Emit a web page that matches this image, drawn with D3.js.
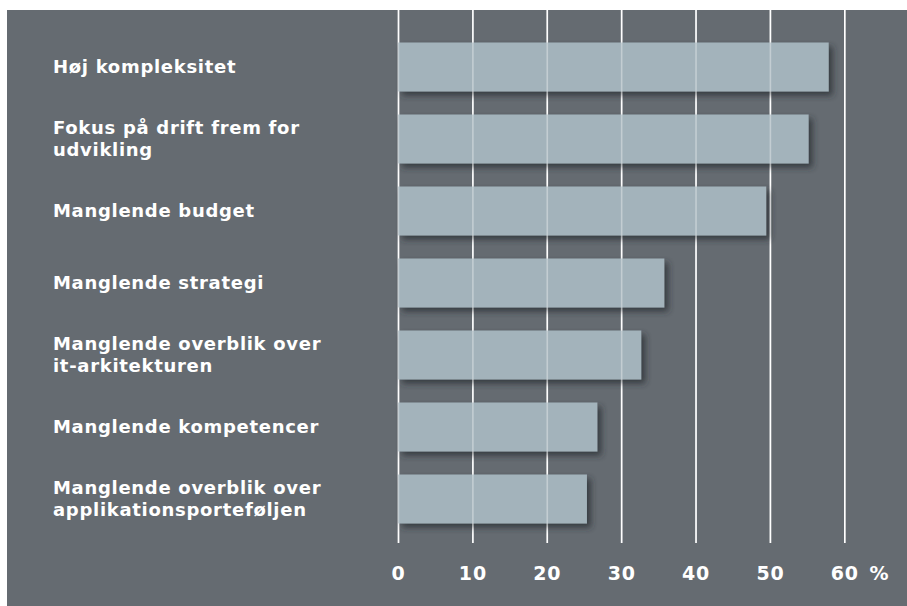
<!DOCTYPE html>
<html>
<head>
<meta charset="utf-8">
<script src="https://cdn.jsdelivr.net/npm/d3@7"></script>
<style>
  html, body { margin: 0; padding: 0; background: #ffffff; }
  svg { display: block; }
  text { font-family: "DejaVu Sans", "Open Sans", sans-serif; font-weight: bold; fill: #ffffff; }
</style>
</head>
<body>
<svg id="chart" width="907" height="606"></svg>
<script>
// Barrierer – andel af respondenter (%)
const categories = [
  ["Høj kompleksitet"],
  ["Fokus på drift frem for", "udvikling"],
  ["Manglende budget"],
  ["Manglende strategi"],
  ["Manglende overblik over", "it-arkitekturen"],
  ["Manglende kompetencer"],
  ["Manglende overblik over", "applikationsporteføljen"]
];
const values = [57.9, 55.2, 49.5, 35.8, 32.7, 26.8, 25.4];
const tickValues = [0, 10, 20, 30, 40, 50, 60];
const unitLabel = "%";

const svg = d3.select("#chart");
const W = 907, H = 606;

// panel background
svg.append("rect").attr("x", 7).attr("y", 10).attr("width", W - 7).attr("height", H - 10)
  .attr("fill", "#656b71");

const defs = svg.append("defs");
const f = defs.append("filter").attr("id", "shadow")
  .attr("x", "-10%").attr("y", "-20%").attr("width", "130%").attr("height", "160%");
f.append("feDropShadow").attr("dx", 4).attr("dy", 4).attr("stdDeviation", 3)
  .attr("flood-color", "#2a2e33").attr("flood-opacity", 0.75);

const x = d3.scaleLinear().domain([0, 60]).range([398, 844.3]);
const y = d3.scaleBand().domain(d3.range(categories.length)).range([31, 535]).paddingInner(0.32).paddingOuter(0.16);

const bandTop = 10, tickBottom = 543;

// grid lines behind bars
svg.append("g").selectAll("line").data(tickValues).join("line")
  .attr("x1", d => x(d) + 0.5).attr("x2", d => x(d) + 0.5)
  .attr("y1", bandTop).attr("y2", tickBottom)
  .attr("stroke", "#ffffff").attr("stroke-width", 1.6);

// bars
svg.append("g").selectAll("rect").data(values).join("rect")
  .attr("x", x(0)).attr("y", (d, i) => y(i))
  .attr("width", d => x(d) - x(0)).attr("height", y.bandwidth())
  .attr("fill", "#a3b3bb").attr("filter", "url(#shadow)");

// grid lines seen through bars
svg.append("g").selectAll("line").data(tickValues).join("line")
  .attr("x1", d => x(d) + 0.5).attr("x2", d => x(d) + 0.5)
  .attr("y1", bandTop).attr("y2", tickBottom)
  .attr("stroke", "#ffffff").attr("stroke-opacity", 0.35).attr("stroke-width", 1.6);

// category labels
const lab = svg.append("g");
categories.forEach((lines, i) => {
  const cy = y(i) + y.bandwidth() / 2;
  const lh = 22;
  const t = lab.append("text").attr("x", 53).attr("font-size", 18)
    .attr("letter-spacing", 0.7);
  lines.forEach((s, j) => {
    t.append("tspan").attr("x", 53)
      .attr("y", cy + (j - (lines.length - 1) / 2) * lh)
      .attr("dy", "0.35em").text(s);
  });
});

// x axis tick labels
const axis = d3.axisBottom(x).tickValues(tickValues).tickSize(0).tickPadding(0);
const ag = svg.append("g").attr("transform", "translate(0,573)").call(axis);
ag.select(".domain").remove();
ag.selectAll("text").attr("fill", "#ffffff").attr("font-size", 19)
  .attr("font-family", "DejaVu Sans, sans-serif").attr("font-weight", "bold")
  .attr("letter-spacing", 0.8)
  .attr("dy", "0.35em").attr("y", 0);

svg.append("text").attr("x", 879).attr("y", 573).attr("dy", "0.35em")
  .attr("text-anchor", "middle").attr("font-size", 19).text(unitLabel);
</script>
</body>
</html>
